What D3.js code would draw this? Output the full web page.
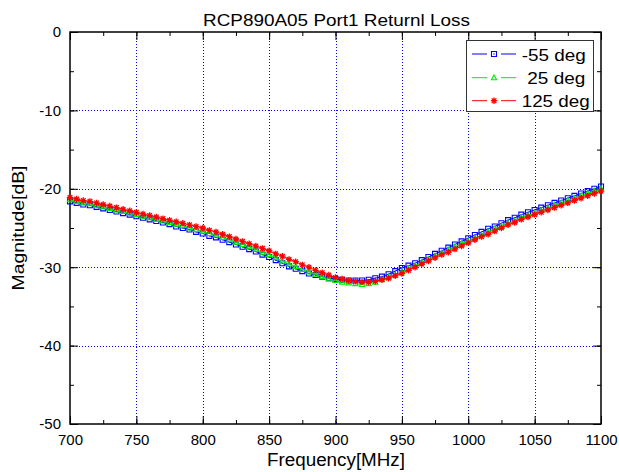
<!DOCTYPE html>
<html>
<head>
<meta charset="utf-8">
<script src="https://cdn.jsdelivr.net/npm/d3@7"></script>
<style>
  body { margin: 0; background: #fff; }
  svg { display: block; font-family: "Liberation Sans", Arial, sans-serif; }
</style>
</head>
<body>
<svg id="chart" width="619" height="472"></svg>
<script>
// frequency points, MHz
let freqs = [700, 705, 710, 715, 720, 725, 730, 735, 740, 745,
    750, 755, 760, 765, 770, 775, 780, 785, 790, 795,
    800, 805, 810, 815, 820, 825, 830, 835, 840, 845,
    850, 855, 860, 865, 870, 875, 880, 885, 890, 895,
    900, 905, 910, 915, 920, 925, 930, 935, 940, 945,
    950, 955, 960, 965, 970, 975, 980, 985, 990, 995,
    1000, 1005, 1010, 1015, 1020, 1025, 1030, 1035, 1040, 1045,
    1050, 1055, 1060, 1065, 1070, 1075, 1080, 1085, 1090, 1095,
    1100];

// return loss in dB
let lossM55 = [-21.6, -21.8, -22.0, -22.1, -22.3, -22.5, -22.7, -22.9, -23.1, -23.3,
    -23.5, -23.7, -23.9, -24.1, -24.3, -24.5, -24.8, -25.0, -25.2, -25.5,
    -25.7, -26.0, -26.2, -26.5, -26.8, -27.1, -27.4, -27.7, -28.0, -28.4,
    -28.7, -29.1, -29.5, -29.9, -30.2, -30.5, -30.8, -31.0, -31.2, -31.4,
    -31.5, -31.6, -31.7, -31.7, -31.7, -31.6, -31.4, -31.2, -30.9, -30.5,
    -30.1, -29.8, -29.5, -29.1, -28.7, -28.3, -27.9, -27.5, -27.1, -26.7,
    -26.3, -25.9, -25.5, -25.1, -24.8, -24.4, -24.0, -23.7, -23.3, -23.0,
    -22.7, -22.4, -22.1, -21.8, -21.5, -21.2, -20.9, -20.6, -20.3, -20.0,
    -19.7];

let loss25 = [-21.4, -21.6, -21.8, -21.9, -22.1, -22.3, -22.5, -22.7, -22.9, -23.1,
    -23.3, -23.5, -23.7, -23.9, -24.1, -24.3, -24.5, -24.7, -25.0, -25.2,
    -25.4, -25.7, -25.9, -26.2, -26.5, -26.8, -27.1, -27.4, -27.7, -28.1,
    -28.4, -28.8, -29.2, -29.6, -29.9, -30.3, -30.6, -30.9, -31.2, -31.5,
    -31.7, -31.9, -32.0, -32.1, -32.2, -32.1, -31.9, -31.6, -31.3, -31.0,
    -30.6, -30.2, -29.8, -29.4, -29.0, -28.6, -28.2, -27.8, -27.4, -27.0,
    -26.7, -26.3, -25.9, -25.5, -25.1, -24.8, -24.4, -24.1, -23.7, -23.4,
    -23.1, -22.8, -22.5, -22.1, -21.8, -21.5, -21.2, -20.9, -20.6, -20.3,
    -20.0];

let loss125 = [-21.1, -21.3, -21.5, -21.6, -21.8, -22.0, -22.2, -22.4, -22.6, -22.8,
    -23.0, -23.2, -23.4, -23.6, -23.8, -24.0, -24.2, -24.4, -24.6, -24.8,
    -25.0, -25.3, -25.5, -25.8, -26.1, -26.4, -26.7, -27.0, -27.3, -27.6,
    -27.9, -28.3, -28.6, -29.0, -29.3, -29.7, -30.0, -30.4, -30.7, -31.0,
    -31.3, -31.5, -31.7, -31.8, -31.9, -31.9, -31.8, -31.6, -31.4, -31.1,
    -30.8, -30.4, -30.0, -29.6, -29.2, -28.8, -28.4, -28.1, -27.7, -27.3,
    -26.9, -26.5, -26.1, -25.8, -25.4, -25.0, -24.6, -24.3, -23.9, -23.6,
    -23.3, -23.0, -22.7, -22.4, -22.1, -21.8, -21.5, -21.2, -20.9, -20.6,
    -20.3];

let seriesNames = ["-55 deg", "25 deg", "125 deg"];
let xTicks = [700, 750, 800, 850, 900, 950, 1000, 1050, 1100];
let yTicks = [-50, -40, -30, -20, -10, 0];

let svg = d3.select("#chart");

// plot box
let plotLeft = 70, plotRight = 601, plotTop = 32, plotBottom = 424;

let x = d3.scaleLinear().domain([700, 1100]).range([plotLeft, plotRight]);
let y = d3.scaleLinear().domain([-50, 0]).range([plotBottom, plotTop]);

let series = [
    {name: seriesNames[0], values: lossM55, color: "#0000ff", marker: "square"},
    {name: seriesNames[1], values: loss25, color: "#00ee00", marker: "triangle"},
    {name: seriesNames[2], values: loss125, color: "#ff0000", marker: "star"}
];

// dotted grid
let grid = svg.append("g").attr("class", "grid")
    .attr("stroke", "#0000ff")
    .attr("stroke-width", 1)
    .attr("stroke-dasharray", "1,2");

grid.selectAll(null)
    .data(xTicks.slice(1, -1))
    .enter()
    .append("line")
    .attr("x1", d => Math.round(x(d)) + 0.5)
    .attr("x2", d => Math.round(x(d)) + 0.5)
    .attr("y1", plotTop)
    .attr("y2", plotBottom);

grid.selectAll(null)
    .data(yTicks.slice(1, -1))
    .enter()
    .append("line")
    .attr("y1", d => Math.round(y(d)) + 0.5)
    .attr("y2", d => Math.round(y(d)) + 0.5)
    .attr("x1", plotLeft)
    .attr("x2", plotRight);

// inward ticks on all four sides, major + minor
let minorX = d3.range(700, 1101, 25);
let minorY = d3.range(-50, 1, 5);
let plain = d => String(d);

let addAxis = function (axis, tx, ty, labels) {
    let g = svg.append("g")
        .attr("transform", "translate(" + tx + "," + ty + ")")
        .call(axis.tickFormat(plain));
    g.select(".domain").remove();
    g.selectAll("line").attr("stroke", "#000").attr("stroke-width", 1);
    if (labels) {
        g.selectAll("text")
            .attr("fill", "#000")
            .style("font-size", "15px");
    } else {
        g.selectAll("text").remove();
    }
    return g;
};

addAxis(d3.axisBottom(x).tickValues(minorX).tickSize(-4), 0, plotBottom, false);
addAxis(d3.axisBottom(x).tickValues(xTicks).tickSize(-8).tickPadding(10), 0, plotBottom, true);
addAxis(d3.axisTop(x).tickValues(minorX).tickSize(-4), 0, plotTop, false);
addAxis(d3.axisTop(x).tickValues(xTicks).tickSize(-8), 0, plotTop, false);
addAxis(d3.axisLeft(y).tickValues(minorY).tickSize(-4), plotLeft, 0, false);
addAxis(d3.axisLeft(y).tickValues(yTicks).tickSize(-8).tickPadding(9), plotLeft, 0, true);
addAxis(d3.axisRight(y).tickValues(minorY).tickSize(-4), plotRight, 0, false);
addAxis(d3.axisRight(y).tickValues(yTicks).tickSize(-8), plotRight, 0, false);

svg.append("rect")
    .attr("x", plotLeft)
    .attr("y", plotTop)
    .attr("width", plotRight - plotLeft)
    .attr("height", plotBottom - plotTop)
    .attr("fill", "none")
    .attr("stroke", "#000")
    .attr("stroke-width", 1.5);

// marker shapes
let markerPath = {
    square: "M-2.5,-2.5H2.5V2.5H-2.5Z",
    triangle: "M0,-2.8L2.6,2H-2.6Z",
    star: "M-3.2,0H3.2M0,-3.2V3.2M-2.3,-2.3L2.3,2.3M-2.3,2.3L2.3,-2.3"
};

let drawMarker = function (g, kind, color) {
    g.append("path")
        .attr("d", markerPath[kind])
        .attr("fill", "none")
        .attr("stroke", color)
        .attr("stroke-width", kind === "star" ? 1.3 : 1.1);
    if (kind === "square") {
        g.append("rect")
            .attr("x", -0.6).attr("y", -0.6)
            .attr("width", 1.2).attr("height", 1.2)
            .attr("fill", color);
    }
};

let line = d3.line()
    .x((d, i) => x(freqs[i]))
    .y(d => y(d));

series.forEach(function (s) {
    let g = svg.append("g").attr("class", "series");

    g.append("path")
        .datum(s.values)
        .attr("d", line)
        .attr("fill", "none")
        .attr("stroke", s.color)
        .attr("stroke-width", 1);

    g.selectAll(null)
        .data(s.values)
        .enter()
        .append("g")
        .attr("transform", (d, i) => "translate(" + x(freqs[i]) + "," + y(d) + ")")
        .each(function () {
            drawMarker(d3.select(this), s.marker, s.color);
        });
});

// legend
let legend = svg.append("g").attr("class", "legend");

legend.append("rect")
    .attr("x", 466.5)
    .attr("y", 40.5)
    .attr("width", 127)
    .attr("height", 71)
    .attr("fill", "#fff")
    .attr("stroke", "#333")
    .attr("stroke-width", 1);

let legendRows = [54, 77.7, 100.7];
let legendText = [
    {x: 521.7, len: 64},
    {x: 527.3, len: 58},
    {x: 521.7, len: 68}
];

series.forEach(function (s, i) {
    let ly = legendRows[i];
    let row = legend.append("g");
    row.append("line")
        .attr("x1", 472).attr("x2", 487)
        .attr("y1", ly).attr("y2", ly)
        .attr("stroke", s.color);
    row.append("line")
        .attr("x1", 501).attr("x2", 516)
        .attr("y1", ly).attr("y2", ly)
        .attr("stroke", s.color);
    drawMarker(row.append("g").attr("transform", "translate(494," + ly + ")"), s.marker, s.color);
    row.append("text")
        .attr("x", legendText[i].x)
        .attr("y", ly + 6.5)
        .attr("textLength", legendText[i].len)
        .attr("lengthAdjust", "spacingAndGlyphs")
        .style("font-size", "16px")
        .text(s.name);
});

// titles
svg.append("text")
    .attr("x", 336.5)
    .attr("y", 26)
    .attr("text-anchor", "middle")
    .attr("textLength", 267)
    .attr("lengthAdjust", "spacingAndGlyphs")
    .style("font-size", "17px")
    .text("RCP890A05 Port1 Returnl Loss");

svg.append("text")
    .attr("x", 336)
    .attr("y", 466)
    .attr("text-anchor", "middle")
    .attr("textLength", 138)
    .attr("lengthAdjust", "spacingAndGlyphs")
    .style("font-size", "18px")
    .text("Frequency[MHz]");

svg.append("text")
    .attr("transform", "translate(24,228) rotate(-90)")
    .attr("text-anchor", "middle")
    .attr("textLength", 125)
    .attr("lengthAdjust", "spacingAndGlyphs")
    .style("font-size", "17px")
    .text("Magnitude[dB]");
</script>
</body>
</html>
